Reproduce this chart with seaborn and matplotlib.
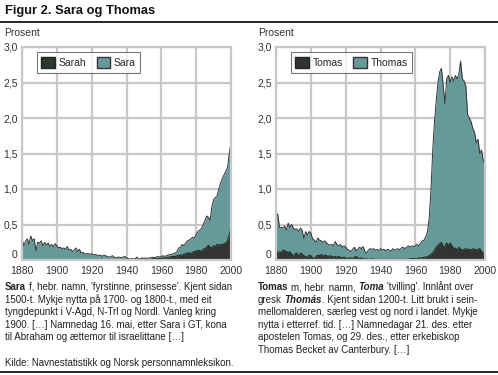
import matplotlib
matplotlib.use("Agg")
import matplotlib.pyplot as plt
from matplotlib.patches import Patch
import numpy as np
import seaborn as sns

years = list(range(1880, 2001))

sara = [0.30, 0.20, 0.26, 0.30, 0.22, 0.34, 0.27, 0.30, 0.13, 0.25,
        0.24, 0.27, 0.20, 0.25, 0.21, 0.24, 0.19, 0.22, 0.19, 0.23,
        0.20, 0.17, 0.18, 0.16, 0.17, 0.15, 0.19, 0.14, 0.15, 0.12,
        0.14, 0.17, 0.12, 0.15, 0.10, 0.11, 0.08, 0.09, 0.09, 0.08,
        0.09, 0.07, 0.08, 0.07, 0.06, 0.07, 0.05, 0.07, 0.06, 0.05,
        0.04, 0.05, 0.06, 0.04, 0.03, 0.04, 0.04, 0.03, 0.04, 0.05,
        0.03, 0.02, 0.01, 0.02, 0.01, 0.02, 0.04, 0.01, 0.02, 0.03,
        0.02, 0.03, 0.02, 0.03, 0.03, 0.04, 0.03, 0.04, 0.05, 0.04,
        0.05, 0.06, 0.05, 0.06, 0.07, 0.08, 0.08, 0.09, 0.10, 0.12,
        0.17, 0.18, 0.22, 0.20, 0.24, 0.27, 0.28, 0.30, 0.32, 0.31,
        0.36, 0.40, 0.42, 0.44, 0.50, 0.55, 0.62, 0.60, 0.56, 0.75,
        0.85, 0.88, 0.90, 1.00, 1.08, 1.15, 1.20, 1.25, 1.30, 1.50,
        1.65]

sarah = [0.00] * 60 + [
        0.01, 0.01, 0.01, 0.01, 0.01, 0.01, 0.01, 0.01, 0.01, 0.01,
        0.01, 0.01, 0.01, 0.01, 0.01, 0.02, 0.02, 0.02, 0.02, 0.02,
        0.02, 0.03, 0.03, 0.03, 0.04, 0.04, 0.05, 0.05, 0.05, 0.06,
        0.06, 0.07, 0.07, 0.08, 0.09, 0.10, 0.10, 0.09, 0.11, 0.12,
        0.12, 0.14, 0.13, 0.12, 0.15, 0.16, 0.18, 0.21, 0.17, 0.18,
        0.20, 0.19, 0.22, 0.21, 0.22, 0.22, 0.23, 0.24, 0.27, 0.36,
        0.45]

thomas = [0.62, 0.65, 0.46, 0.46, 0.45, 0.48, 0.42, 0.52, 0.46, 0.50,
          0.45, 0.43, 0.44, 0.40, 0.45, 0.42, 0.30, 0.40, 0.35, 0.40,
          0.38, 0.30, 0.28, 0.25, 0.31, 0.28, 0.27, 0.25, 0.27, 0.24,
          0.22, 0.21, 0.22, 0.20, 0.26, 0.22, 0.20, 0.22, 0.18, 0.20,
          0.18, 0.15, 0.14, 0.12, 0.15, 0.18, 0.13, 0.15, 0.18, 0.16,
          0.19, 0.12, 0.10, 0.14, 0.16, 0.15, 0.16, 0.14, 0.15, 0.13,
          0.16, 0.14, 0.15, 0.13, 0.15, 0.14, 0.12, 0.16, 0.14, 0.15,
          0.16, 0.14, 0.17, 0.18, 0.16, 0.18, 0.20, 0.18, 0.20, 0.19,
          0.20, 0.22, 0.20, 0.24, 0.27, 0.28, 0.33, 0.40, 0.60, 1.00,
          1.55, 1.95, 2.25, 2.50, 2.65, 2.70, 2.45, 2.20, 2.55, 2.60,
          2.50, 2.58, 2.52, 2.60, 2.55, 2.62, 2.80, 2.55, 2.52, 2.45,
          2.05, 2.00, 1.95, 1.85, 1.80, 1.65, 1.70, 1.50, 1.55, 1.40,
          1.35]

tomas = [0.20, 0.05, 0.12, 0.10, 0.14, 0.13, 0.12, 0.10, 0.12, 0.08,
         0.05, 0.09, 0.10, 0.04, 0.10, 0.08, 0.06, 0.05, 0.03, 0.07,
         0.06, 0.03, 0.02, 0.05, 0.07, 0.06, 0.08, 0.05, 0.07, 0.06,
         0.05, 0.06, 0.05, 0.04, 0.05, 0.04, 0.05, 0.04, 0.03, 0.04,
         0.03, 0.02, 0.03, 0.03, 0.02, 0.04, 0.05, 0.03, 0.02, 0.03,
         0.02, 0.01, 0.02, 0.01, 0.01, 0.02, 0.01, 0.01, 0.01, 0.01,
         0.01, 0.01, 0.01, 0.01, 0.01, 0.01, 0.01, 0.01, 0.01, 0.01,
         0.01, 0.01, 0.01, 0.01, 0.01, 0.01, 0.01, 0.02, 0.02, 0.02,
         0.02, 0.02, 0.03, 0.03, 0.03, 0.04, 0.04, 0.05, 0.06, 0.08,
         0.10, 0.14, 0.18, 0.21, 0.23, 0.25, 0.18, 0.20, 0.24, 0.20,
         0.24, 0.20, 0.16, 0.17, 0.14, 0.18, 0.15, 0.14, 0.15, 0.16,
         0.15, 0.15, 0.14, 0.16, 0.15, 0.14, 0.15, 0.16, 0.12, 0.10,
         0.10]

x_ticks = [1880, 1900, 1920, 1940, 1960, 1980, 2000]
y_ticks = [0, 0.5, 1.0, 1.5, 2.0, 2.5, 3.0]
y_labels = ["0", "0,5", "1,0", "1,5", "2,0", "2,5", "3,0"]

TEAL = "#669999"
DARK = "#333333"
GRID = "#c8c8c8"
FONT = "Liberation Sans"

sns.set_style("white")
plt.rcParams["font.family"] = [FONT, "DejaVu Sans"]

W, H = 498, 375
fig = plt.figure(figsize=(W / 100, H / 100), dpi=100)


def px(x, y):
    return x / W, 1 - y / H


def draw_panel(left_px, light, dark, light_name, dark_name):
    ax = fig.add_axes([left_px / W, (H - 260) / H, 209 / W, 213 / H])
    ax.fill_between(years, light, color=TEAL, lw=0)
    sns.lineplot(x=years, y=light, ax=ax, color=DARK, lw=0.7)
    ax.fill_between(years, dark, color=DARK, lw=0)
    sns.lineplot(x=years, y=dark, ax=ax, color="#1c2a1c", lw=0.7)
    ax.set_xlim(1880, 2000)
    ax.set_ylim(0, 3)
    ax.set_xticks(x_ticks)
    ax.set_yticks(y_ticks)
    ax.set_yticklabels(y_labels)
    ax.tick_params(length=0, labelsize=7.5, labelcolor="#333333")
    ax.tick_params(axis="y", pad=3)
    ax.tick_params(axis="x", pad=4.5)
    # lift the "0" a little so it clears the year labels, as in the original
    ax.get_yticklabels()[0].set_verticalalignment("bottom")
    ax.grid(True, color=GRID, lw=1.6)
    ax.set_axisbelow(True)
    for s in ax.spines.values():
        s.set_color(GRID)
        s.set_linewidth(1.6)
        s.set_visible(True)
    ax.set_xlabel("")
    ax.set_ylabel("")
    handles = [Patch(facecolor=DARK, edgecolor="#1c2a1c", label=dark_name),
               Patch(facecolor=TEAL, edgecolor="#333333", label=light_name)]
    leg = ax.legend(handles=handles, loc="upper left", bbox_to_anchor=(0.07, 0.975),
                    ncol=2, frameon=True, fancybox=False, fontsize=7.5,
                    handlelength=1.3, handleheight=1.3, handletextpad=0.35,
                    columnspacing=1.0, borderpad=0.45, borderaxespad=0)
    leg.get_frame().set_edgecolor("#555555")
    leg.get_frame().set_linewidth(0.8)
    return ax


draw_panel(22, sara, sarah, "Sara", "Sarah")
draw_panel(276, thomas, tomas, "Thomas", "Tomas")

# header
fig.text(*px(5, 11), "Figur 2. Sara og Thomas", fontsize=9.3, fontweight="bold",
         va="center", ha="left", color="#111111")
fig.add_artist(plt.Line2D([0, 1], [1 - 22 / H, 1 - 22 / H], color="black", lw=1.2))
fig.add_artist(plt.Line2D([0, 1], [1 - 372 / H, 1 - 372 / H], color="black", lw=1.2))
fig.text(*px(4, 33), "Prosent", fontsize=7.5, va="center", ha="left", color="#333333")
fig.text(*px(258, 33), "Prosent", fontsize=7.5, va="center", ha="left", color="#333333")

renderer = fig.canvas.get_renderer()
TXT = 7.0


def text_width(s, **kw):
    t = fig.text(0, 0, s, fontsize=TXT, **kw)
    w = t.get_window_extent(renderer=renderer).width
    t.remove()
    return w


space_w = text_width("n n") - text_width("nn")


def rich_line(x, y, parts):
    cur = x
    for s, weight, style in parts:
        lead = len(s) - len(s.lstrip(" "))
        trail = len(s) - len(s.rstrip(" "))
        cur += lead * space_w
        body = s.strip(" ")
        t = fig.text(cur / W, 1 - y / H, body, fontsize=TXT, fontweight=weight,
                     fontstyle=style, va="center", ha="left", color="#222222")
        cur += t.get_window_extent(renderer=renderer).width + trail * space_w


N = ("normal", "normal")
B = ("bold", "normal")
BI = ("bold", "italic")

left_lines = [
    [("Sara", *B), (" f, hebr. namn, 'fyrstinne, prinsesse'. Kjent sidan", *N)],
    [("1500-t. Mykje nytta på 1700- og 1800-t., med eit", *N)],
    [("tyngdepunkt i V-Agd, N-Trl og Nordl. Vanleg kring", *N)],
    [("1900. […] Namnedag 16. mai, etter Sara i GT, kona", *N)],
    [("til Abraham og ættemor til israelittane […]", *N)],
]
right_lines = [
    [("Tomas", *B), (" m, hebr. namn, ", *N), ("Toma", *BI),
     (" 'tvilling'. Innlånt over", *N)],
    [("gresk ", *N), ("Thomás", *BI), (". Kjent sidan 1200-t. Litt brukt i sein-", *N)],
    [("mellomalderen, særleg vest og nord i landet. Mykje", *N)],
    [("nytta i etterref. tid. […] Namnedagar 21. des. etter", *N)],
    [("apostelen Tomas, og 29. des., etter erkebiskop", *N)],
    [("Thomas Becket av Canterbury. […]", *N)],
]

for i, parts in enumerate(left_lines):
    rich_line(5, 287 + i * 12.6, parts)
for i, parts in enumerate(right_lines):
    rich_line(258, 287 + i * 12.6, parts)
rich_line(5, 363, [("Kilde: Navnestatistikk og Norsk personnamnleksikon.", *N)])

fig.savefig("out.png", dpi=100)
